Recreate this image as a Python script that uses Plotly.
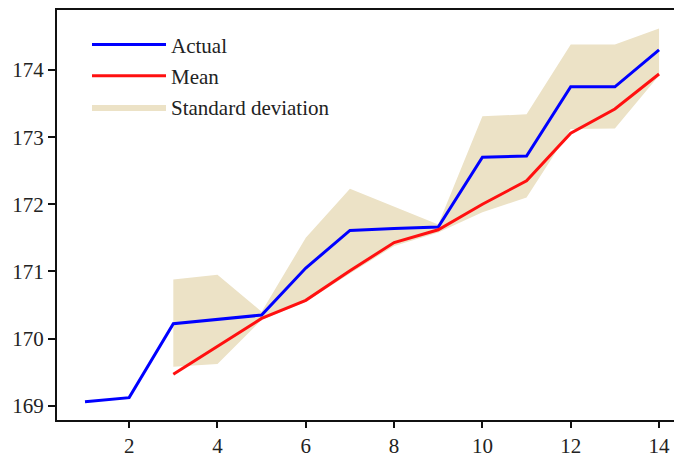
import plotly.graph_objects as go

x_actual = list(range(1, 15))
actual = [169.06, 169.12, 170.22, 170.29, 170.35, 171.05, 171.61, 171.64, 171.66,
          172.70, 172.72, 173.75, 173.75, 174.30]

x_stat = list(range(3, 15))
mean = [169.47, 169.89, 170.30, 170.57, 171.01, 171.43, 171.62, 172.00, 172.35,
        173.06, 173.42, 173.94]
upper = [170.88, 170.95, 170.40, 171.50, 172.23, 171.96, 171.70, 173.31, 173.34,
         174.38, 174.38, 174.62]
lower = [169.58, 169.62, 170.28, 170.55, 170.97, 171.38, 171.58, 171.88, 172.10,
         173.12, 173.13, 173.92]

x_ticks = [2, 4, 6, 8, 10, 12, 14]
y_ticks = [169, 170, 171, 172, 173, 174]

BAND = "#ECE2C6"
FONT = "Liberation Serif"

fig = go.Figure()
fig.add_trace(go.Scatter(x=x_stat, y=lower, mode="lines", line=dict(width=0),
                         showlegend=False, hoverinfo="skip", legendgroup="c"))
fig.add_trace(go.Scatter(x=x_stat, y=upper, mode="lines", line=dict(width=0),
                         fill="tonexty", fillcolor=BAND, name="Standard deviation",
                         legendgroup="c", legendrank=3))
fig.add_trace(go.Scatter(x=x_actual, y=actual, mode="lines", name="Actual",
                         line=dict(color="#0000FF", width=3), legendgroup="a",
                         legendrank=1))
fig.add_trace(go.Scatter(x=x_stat, y=mean, mode="lines", name="Mean",
                         line=dict(color="#FF1010", width=3), legendgroup="b",
                         legendrank=2))

# page body has an 8px default margin, so the figure is sized to fill the rest
fig.update_layout(
    width=674, height=451,
    margin=dict(l=49, r=0, t=2, b=39),
    paper_bgcolor="white", plot_bgcolor="white",
    font=dict(family=FONT, size=21, color="#222222"),
    legend=dict(x=0.048, y=0.965, xanchor="left", yanchor="top",
                bgcolor="rgba(0,0,0,0)", itemwidth=74, tracegroupgap=1,
                traceorder="grouped", font=dict(family=FONT, size=21, color="#222222")),
    xaxis=dict(range=[0.366, 14.52], tickvals=x_ticks, showgrid=False, zeroline=False,
               showline=True, linecolor="#111111", linewidth=2, mirror=True,
               automargin=False,
               ticks="outside", ticklen=6, tickwidth=1.5, tickcolor="#111111"),
    yaxis=dict(range=[168.787, 174.894], tickvals=y_ticks, showgrid=False, zeroline=False,
               showline=True, linecolor="#111111", linewidth=2, mirror=False,
               automargin=False,
               ticks="outside", ticklen=7, tickwidth=1.5, tickcolor="#111111"),
)

fig.write_html("out.html")
